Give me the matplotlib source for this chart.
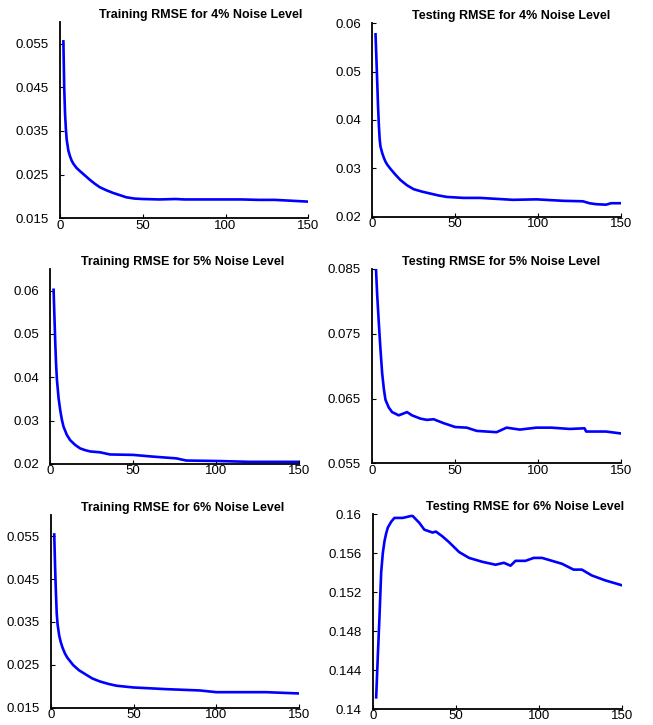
import matplotlib
matplotlib.use('Agg')
import matplotlib.pyplot as plt

plt.rcParams['font.family'] = ['Liberation Sans', 'DejaVu Sans']

# ---- training / testing RMSE values (epoch -> RMSE)
train4_x = [2, 2.5, 3, 3.5, 4, 5, 6, 7, 8, 10, 12, 15, 18, 21, 24, 28, 32, 36, 40, 45, 50, 60, 70, 75, 80, 90, 100,
            110, 120, 130, 140, 150]
train4_y = [0.0555, 0.045, 0.039, 0.0355, 0.033, 0.0305, 0.0292, 0.0282, 0.0275, 0.0265, 0.0258, 0.0248, 0.0238,
            0.0229, 0.0221, 0.0214, 0.0208, 0.0203, 0.0198, 0.0195, 0.0194, 0.0193, 0.0194, 0.0193, 0.0193, 0.0193,
            0.0193, 0.0193, 0.0192, 0.0192, 0.0190, 0.0188]

test4_x = [2, 2.5, 3, 3.5, 4, 4.5, 5, 6, 7, 8, 9, 11, 14, 17, 21, 25, 30, 35, 40, 45, 55, 65, 75, 85, 99, 115, 127,
           131, 135, 141, 144, 150]
test4_y = [0.0577, 0.053, 0.048, 0.043, 0.039, 0.036, 0.0345, 0.0332, 0.0322, 0.0314, 0.0308, 0.0299, 0.0287,
           0.0276, 0.0265, 0.0257, 0.0252, 0.0248, 0.0244, 0.0241, 0.0239, 0.0239, 0.0237, 0.0235, 0.0236, 0.0233,
           0.0232, 0.0228, 0.0226, 0.0225, 0.0228, 0.0228]

train5_x = [2, 2.5, 3, 3.5, 4, 5, 6, 7, 8, 10, 12, 15, 18, 21, 24, 30, 36, 50, 62, 76, 82, 100, 120, 150]
train5_y = [0.0602, 0.054, 0.048, 0.043, 0.0395, 0.0352, 0.0324, 0.0302, 0.0286, 0.0267, 0.0255, 0.0244, 0.0236,
            0.0232, 0.0229, 0.0227, 0.0222, 0.0221, 0.0217, 0.0213, 0.0208, 0.0207, 0.0205, 0.0205]

test5_x = [2, 3, 4, 5, 6, 7, 8, 10, 12, 16, 19, 21, 24, 29, 33, 37, 43, 50, 57, 63, 75, 81, 89, 99, 108, 119, 128,
           129, 141, 150]
test5_y = [0.0865, 0.081, 0.0766, 0.0725, 0.0689, 0.0665, 0.0648, 0.0636, 0.0629, 0.0624, 0.0627, 0.0629, 0.0624,
           0.0619, 0.0617, 0.0618, 0.0612, 0.0606, 0.0605, 0.0600, 0.0598, 0.0605, 0.0602, 0.0605, 0.0605, 0.0603,
           0.0604, 0.0599, 0.0599, 0.0596]

train6_x = [2, 2.5, 3, 3.5, 4, 5, 6, 7, 8.5, 10, 13.5, 17, 21.6, 25, 29.6, 35, 39.7, 49.8, 70, 90, 100, 130, 150]
train6_y = [0.0554, 0.048, 0.042, 0.037, 0.0345, 0.0318, 0.0302, 0.029, 0.0276, 0.0266, 0.0249, 0.0237, 0.0226,
            0.0218, 0.0211, 0.0205, 0.0201, 0.0197, 0.0193, 0.0190, 0.0186, 0.0186, 0.0183]

test6_x = [2, 3, 4, 5, 6, 7, 8, 9, 11, 13, 18, 23, 24, 28, 31, 36, 38, 42, 46, 52, 58, 66, 74, 79, 83, 86, 92, 97,
           102, 114, 121, 126, 132, 140, 150]
test6_y = [0.1412, 0.1455, 0.1495, 0.1540, 0.1560, 0.1572, 0.1580, 0.1586, 0.1592, 0.1596, 0.1596, 0.1598, 0.1598,
           0.1591, 0.1584, 0.1581, 0.1582, 0.1577, 0.1571, 0.1561, 0.1555, 0.1551, 0.1548, 0.1550, 0.1547, 0.1552,
           0.1552, 0.1555, 0.1555, 0.1549, 0.1543, 0.1543, 0.1537, 0.1532, 0.1527]

titles = ['Training RMSE for 4% Noise Level', 'Testing RMSE for 4% Noise Level',
          'Training RMSE for 5% Noise Level', 'Testing RMSE for 5% Noise Level',
          'Training RMSE for 6% Noise Level', 'Testing RMSE for 6% Noise Level']

series = [(train4_x, train4_y), (test4_x, test4_y), (train5_x, train5_y),
          (test5_x, test5_y), (train6_x, train6_y), (test6_x, test6_y)]

ylims = [(0.015, 0.06), (0.02, 0.06), (0.02, 0.065), (0.055, 0.085), (0.015, 0.06), (0.14, 0.16)]
yticks = [[0.015, 0.025, 0.035, 0.045, 0.055],
          [0.02, 0.03, 0.04, 0.05, 0.06],
          [0.02, 0.03, 0.04, 0.05, 0.06],
          [0.055, 0.065, 0.075, 0.085],
          [0.015, 0.025, 0.035, 0.045, 0.055],
          [0.14, 0.144, 0.148, 0.152, 0.156, 0.16]]
ylabels = [['0.015', '0.025', '0.035', '0.045', '0.055'],
           ['0.02', '0.03', '0.04', '0.05', '0.06'],
           ['0.02', '0.03', '0.04', '0.05', '0.06'],
           ['0.055', '0.065', '0.075', '0.085'],
           ['0.015', '0.025', '0.035', '0.045', '0.055'],
           ['0.14', '0.144', '0.148', '0.152', '0.156', '0.16']]

# axes boxes [left, bottom, width, height] in figure fraction
boxes = [[0.092, 0.699, 0.380, 0.271], [0.570, 0.701, 0.381, 0.267],
         [0.077, 0.360, 0.381, 0.269], [0.570, 0.361, 0.381, 0.268],
         [0.078, 0.024, 0.380, 0.266], [0.571, 0.022, 0.381, 0.269]]
title_x = [0.565, 0.558, 0.53, 0.518, 0.53, 0.61]

fig = plt.figure(figsize=(6.53, 7.25), dpi=100)

for i in range(6):
    ax = fig.add_axes(boxes[i])
    x, y = series[i]
    ax.plot(x, y, color='#0000ff', linewidth=1.9)
    ax.set_xlim(0, 150)
    ax.set_ylim(*ylims[i])
    ax.set_xticks([0, 50, 100, 150])
    ax.set_yticks(yticks[i])
    ax.set_yticklabels(ylabels[i])
    ax.spines['top'].set_visible(False)
    ax.spines['right'].set_visible(False)
    ax.spines['left'].set_linewidth(1.3)
    ax.spines['bottom'].set_linewidth(1.3)
    ax.tick_params(direction='in', length=3, width=0.8, labelsize=9.5)
    ax.tick_params(axis='y', pad=8)
    ax.tick_params(axis='x', pad=1)
    ax.text(title_x[i], 1.005, titles[i], transform=ax.transAxes, ha='center', va='bottom',
            fontsize=9, fontweight='bold')

fig.savefig('out.png', dpi=100)
